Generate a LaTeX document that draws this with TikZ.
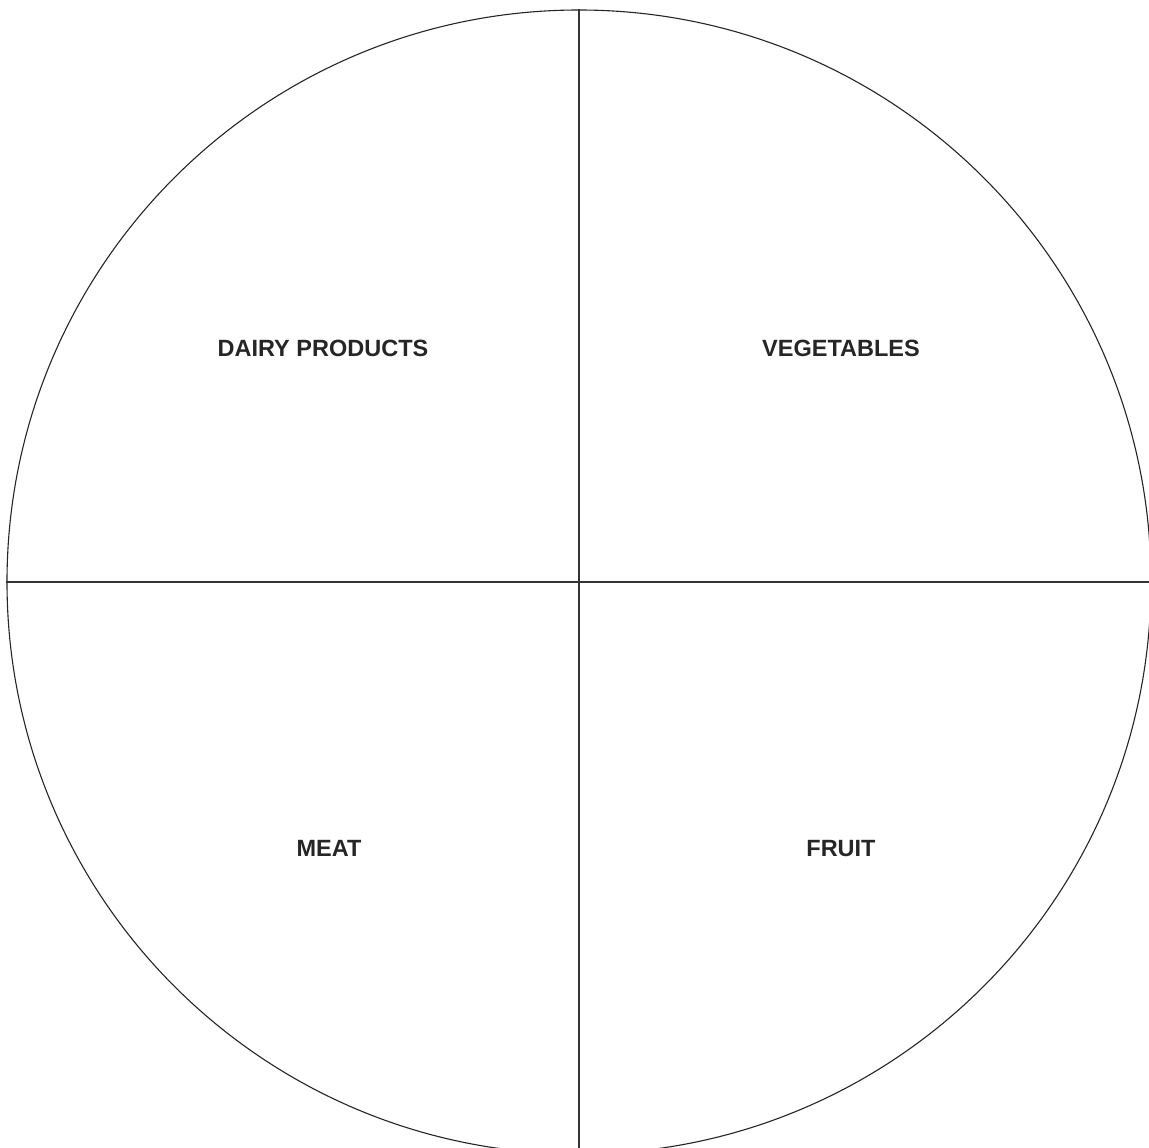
\documentclass[tikz,border=0pt]{standalone}
\usepackage{fontspec}
\setmainfont{Liberation Sans}
\begin{document}
\begin{tikzpicture}[x=1pt,y=-1pt,
  lbl/.style={font=\bfseries\fontsize{23.5}{28}\selectfont, text=black!85, anchor=base, inner sep=0pt},
  rim/.style={draw=black!85, line width=1.1pt, circle, inner sep=0pt, minimum size=1144pt},
  divider/.style={draw=black!80, line width=1.4pt}]
\useasboundingbox (0,0) rectangle (1149,1148);
\clip (0,0) rectangle (1149,1148);
\fill[white] (0,0) rectangle (1149,1148);
\node[rim] (pie) at (579,582) {};
\draw[divider] (pie.north) -- (pie.south);
\draw[divider] (pie.west) -- (pie.east);
\node[lbl] (dairy) at (323,356.5) {DAIRY PRODUCTS};
\node[lbl] (veg) at (841,356.5) {VEGETABLES};
\node[lbl] (meat) at (329,856) {MEAT};
\node[lbl] (fruit) at (841,856) {FRUIT};
\end{tikzpicture}
\end{document}
